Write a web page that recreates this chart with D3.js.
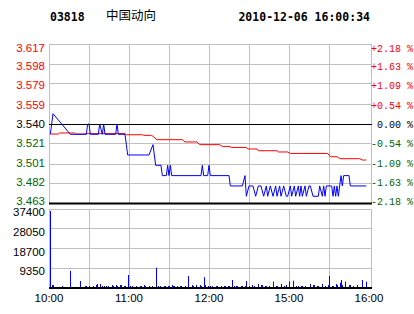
<!DOCTYPE html>
<html>
<head>
<meta charset="utf-8">
<script src="https://cdn.jsdelivr.net/npm/d3@7/dist/d3.min.js"></script>
<style>
  body { margin: 0; background: #fff; }
</style>
</head>
<body>
<div id="chart"></div>
<script>
// header
const stockCode = "03818"
const stockName = "中国动向"
const stamp = "2010-12-06 16:00:34"
const prevClose = 3.540

// axis labels
const priceTicks = [3.617, 3.598, 3.579, 3.559, 3.540, 3.521, 3.501, 3.482, 3.463]
const pctTicks = ["+2.18 %", "+1.63 %", "+1.09 %", "+0.54 %", " 0.00 %", "-0.54 %", "-1.09 %", "-1.63 %", "-2.18 %"]
const volTicks = [37400, 28050, 18700, 9350]
const timeTicks = [0, 60, 120, 180, 240]
const timeLabels = ["10:00", "11:00", "12:00", "15:00", "16:00"]

// price (minutes from 10:00, trading time only)
const priceMinutes = [1, 3, 16, 28, 29, 30, 31, 37, 38, 40, 41, 42, 50, 51, 52, 57, 58, 59, 75, 78, 79, 80, 84, 85,
  88, 89, 90, 91, 92, 114, 115, 116, 119, 120, 121, 135, 136, 145, 147, 148,
  150, 153, 155, 157, 159, 161, 163, 164, 166, 168, 170, 171, 173, 174, 176, 178, 179, 181, 182, 184, 185,
  187, 188, 189, 190, 192, 193, 195, 196, 198, 202, 203, 205, 206, 207, 208, 212, 213, 214, 215, 216, 217,
  219, 220, 221, 225, 226, 238]
const prices = [3.53, 3.55, 3.53, 3.53, 3.54, 3.54, 3.53, 3.53, 3.54, 3.53, 3.54, 3.53, 3.53, 3.54, 3.53, 3.53, 3.52, 3.51, 3.51, 3.52, 3.51, 3.50, 3.50, 3.49,
  3.49, 3.50, 3.49, 3.50, 3.49, 3.49, 3.50, 3.49, 3.49, 3.50, 3.49, 3.49, 3.48, 3.48, 3.49, 3.47,
  3.48, 3.48, 3.47, 3.48, 3.48, 3.47, 3.48, 3.47, 3.48, 3.47, 3.48, 3.47, 3.48, 3.47, 3.48, 3.47, 3.47, 3.48, 3.47, 3.48, 3.47,
  3.48, 3.47, 3.48, 3.47, 3.48, 3.47, 3.48, 3.48, 3.47, 3.47, 3.48, 3.47, 3.48, 3.47, 3.48, 3.48, 3.47, 3.48, 3.47, 3.48, 3.47,
  3.49, 3.48, 3.49, 3.49, 3.48, 3.48]

// average price
const avgMinutes = [1, 7, 8, 19, 20, 27, 28, 57, 58, 70, 71, 77, 81, 100, 102, 111, 113, 128, 130, 135, 137, 148,
  149, 156, 157, 171, 172, 179, 181, 209, 211, 216, 218, 233, 235, 238]
const avgPrices = [3.5303, 3.5303, 3.5313, 3.5313, 3.5303, 3.5303, 3.5307, 3.5307, 3.5296, 3.5296, 3.5290, 3.5290,
  3.5248, 3.5248, 3.5226, 3.5226, 3.5200, 3.5200, 3.5183, 3.5183, 3.5173, 3.5173,
  3.5158, 3.5158, 3.5141, 3.5141, 3.5129, 3.5129, 3.5115, 3.5115, 3.5083, 3.5083, 3.5064, 3.5064, 3.5051, 3.5051]

// volume
const volMinutes = [1, 2, 3, 10, 16, 23, 27, 28, 30, 33, 35, 36, 38, 40, 41, 43, 44, 47, 48, 50, 51, 53, 54, 56, 57, 59,
  61, 62, 65, 68, 69, 71, 72, 75, 77, 80, 82, 83, 86, 87, 89, 90, 92, 93, 94, 96, 98, 99, 102, 104, 107, 108, 110,
  113, 114, 116, 117, 119, 121, 122, 125, 126, 129, 131, 132, 134, 135, 137, 139, 140, 141, 144, 145, 147, 148,
  150, 152, 154, 157, 159, 160, 162, 163, 165, 168, 170, 171, 174, 176, 178, 180, 183, 185, 187, 189, 190, 192,
  196, 198, 199, 201, 202, 205, 207, 209, 210, 212, 213, 215, 216, 218, 219, 220, 222, 225, 226, 228, 231, 235, 238]
const volumes = [36500, 1400, 1400, 950, 8100, 3300, 950, 950, 950, 950, 1400, 1900, 1900, 950, 950, 950, 950, 1400, 950, 1400, 950, 1400, 1400, 950, 950, 6150,
  950, 950, 950, 950, 950, 1400, 950, 950, 950, 9600, 950, 950, 950, 950, 950, 950, 1400, 950, 950, 950, 950, 950, 950, 5700, 1400, 950, 1400,
  1400, 950, 5100, 1400, 950, 950, 950, 950, 950, 950, 950, 950, 950, 950, 3800, 950, 950, 950, 950, 950, 950, 3300,
  950, 1400, 950, 1900, 1400, 1400, 950, 950, 950, 3000, 950, 950, 1900, 950, 1400, 3000, 3450, 950, 950, 950, 950, 950,
  1900, 1400, 1400, 950, 950, 1900, 950, 1400, 5700, 950, 950, 1900, 1400, 2500, 3800, 1400, 3000, 1400, 1400, 950, 1400, 3800, 3000]

const red = "#ff0000"
const green = "#006400"
const grid = "#c0c0c0"

const svg = d3.select("#chart")
  .append("svg")
  .attr("width", 414)
  .attr("height", 314)

// scales
const x = d3.scaleLinear().domain([0, 240]).range([49, 369])
const y = d3.scaleLinear().domain([3.463, 3.617]).range([203.5, 44.5])
const yLabel = d3.scaleLinear().domain([3.463, 3.617]).range([204.5, 51.5])
const v = d3.scaleLinear().domain([0, 37400]).range([288, 209])
const crisp = n => Math.round(n - 0.5) + 0.5

const tickColor = p => p > prevClose ? red : (p < prevClose ? green : "#000")

// header
svg.append("text")
  .attr("x", 50).attr("y", 20.5)
  .style("font", "bold 11.5px 'DejaVu Sans Mono', monospace")
  .text(stockCode)
svg.append("text")
  .attr("x", 106).attr("y", 19.5)
  .style("font", "12.5px 'Noto Sans CJK SC', sans-serif")
  .text(stockName)
svg.append("text")
  .attr("x", 370).attr("y", 20.5)
  .attr("text-anchor", "end")
  .style("font", "bold 11.5px 'DejaVu Sans Mono', monospace")
  .text(stamp)

// grid: price panel
const halfHours = d3.range(30, 240, 30)
const gridG = svg.append("g").attr("stroke", grid).attr("stroke-width", 1)

gridG.selectAll(".hp")
  .data(priceTicks.filter(p => p !== prevClose && p !== 3.463))
  .enter().append("line")
  .attr("x1", 49).attr("x2", 372)
  .attr("y1", d => crisp(y(d))).attr("y2", d => crisp(y(d)))

gridG.selectAll(".vp")
  .data(halfHours)
  .enter().append("line")
  .attr("x1", d => crisp(x(d))).attr("x2", d => crisp(x(d)))
  .attr("y1", 44).attr("y2", 203)

// grid: volume panel
gridG.selectAll(".hv")
  .data(volTicks)
  .enter().append("line")
  .attr("x1", 49).attr("x2", 372)
  .attr("y1", d => crisp(v(d))).attr("y2", d => crisp(v(d)))

gridG.selectAll(".vv")
  .data(halfHours)
  .enter().append("line")
  .attr("x1", d => crisp(x(d))).attr("x2", d => crisp(x(d)))
  .attr("y1", 209).attr("y2", 288)

// panel borders
for (const bx of [49.5, 371.5]) {
  gridG.append("line").attr("x1", bx).attr("x2", bx).attr("y1", 44).attr("y2", 203)
  gridG.append("line").attr("x1", bx).attr("x2", bx).attr("y1", 209).attr("y2", 288)
}

// volume bars
svg.append("g").selectAll("rect")
  .data(volMinutes)
  .enter().append("rect")
  .attr("x", (d) => Math.round(x(d)))
  .attr("width", 1)
  .attr("y", (d, i) => v(volumes[i]))
  .attr("height", (d, i) => 288 - v(volumes[i]))
  .attr("fill", "#0000ff")

// black reference lines
svg.append("line")
  .attr("x1", 49).attr("x2", 372)
  .attr("y1", crisp(y(prevClose))).attr("y2", crisp(y(prevClose)))
  .attr("stroke", "#000")
svg.append("line")
  .attr("x1", 49).attr("x2", 372)
  .attr("y1", y(3.463)).attr("y2", y(3.463))
  .attr("stroke", "#000").attr("stroke-width", 2)
svg.append("line")
  .attr("x1", 49).attr("x2", 372)
  .attr("y1", 288).attr("y2", 288)
  .attr("stroke", "#000").attr("stroke-width", 2)

// lines
const priceLine = d3.line()
  .x(d => x(d[0]))
  .y(d => y(d[1]))

svg.append("path")
  .datum(avgMinutes.map((m, i) => [m, avgPrices[i]]))
  .attr("d", priceLine)
  .attr("fill", "none")
  .attr("stroke", red)
  .attr("stroke-width", 1)

svg.append("path")
  .datum(priceMinutes.map((m, i) => [m, prices[i]]))
  .attr("d", priceLine)
  .attr("fill", "none")
  .attr("stroke", "#0000ff")
  .attr("stroke-width", 1)

// left price labels
svg.append("g").selectAll("text")
  .data(priceTicks)
  .enter().append("text")
  .attr("x", 45)
  .attr("y", d => yLabel(d))
  .attr("text-anchor", "end")
  .attr("fill", tickColor)
  .style("font", "11.5px 'Liberation Sans', Arial, sans-serif")
  .text(d => d.toFixed(3))

// right percentage labels
svg.append("g").selectAll("text")
  .data(pctTicks)
  .enter().append("text")
  .attr("x", 371)
  .attr("y", (d, i) => yLabel(priceTicks[i]))
  .attr("fill", (d, i) => tickColor(priceTicks[i]))
  .attr("xml:space", "preserve")
  .style("white-space", "pre")
  .style("font", "10px 'Liberation Mono', monospace")
  .text(d => d)

// volume labels
svg.append("g").selectAll("text")
  .data(volTicks)
  .enter().append("text")
  .attr("x", 45)
  .attr("y", d => v(d) + 7)
  .attr("text-anchor", "end")
  .style("font", "11.5px 'Liberation Sans', Arial, sans-serif")
  .text(d => d)

// time labels
svg.append("g").selectAll("text")
  .data(timeTicks)
  .enter().append("text")
  .attr("x", d => x(d))
  .attr("y", 302)
  .attr("text-anchor", "middle")
  .style("font", "11.5px 'Liberation Sans', Arial, sans-serif")
  .text((d, i) => timeLabels[i])
</script>
</body>
</html>
